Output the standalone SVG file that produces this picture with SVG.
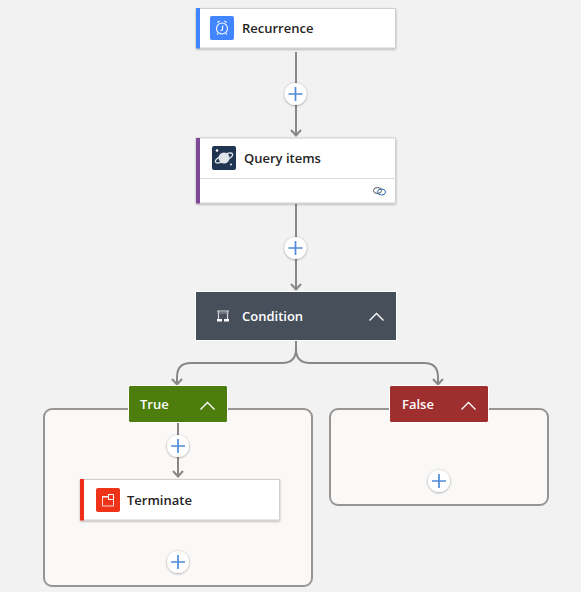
<svg xmlns="http://www.w3.org/2000/svg" width="581" height="592" viewBox="0 0 581 592">
<defs>
<filter id="sh" x="-10%" y="-20%" width="120%" height="140%"><feDropShadow dx="0" dy="1" stdDeviation="1.2" flood-color="#000" flood-opacity="0.3"/></filter>
<filter id="psh" x="-30%" y="-30%" width="160%" height="160%"><feDropShadow dx="0" dy="0.5" stdDeviation="0.8" flood-color="#000" flood-opacity="0.45"/></filter>
<marker id="arr" markerUnits="userSpaceOnUse" markerWidth="14" markerHeight="10" refX="6" refY="7.2" orient="auto-start-reverse" viewBox="0 0 12 10" overflow="visible"><path d="M0.5 2.2L6 7.2L11.5 2.2" transform="rotate(-90 6 7.2)" fill="none" stroke="#8a8886" stroke-width="2"/></marker>
<g id="plus"><circle r="11" fill="#fff" filter="url(#psh)"/><path d="M-7 0H7M0-7V7" stroke="#4f8ad8" stroke-width="1.7" fill="none"/></g>
</defs>
<style>
text{font-family:"Open Sans","Noto Sans","Liberation Sans",sans-serif;font-weight:600;font-size:13px}
.dark{fill:#252423}
.light{fill:#fff}
.card{fill:#fff;stroke:#d2d0ce;stroke-width:1;filter:url(#sh)}
.wire{fill:none;stroke:#8a8886;stroke-width:2}
.box{fill:#faf9f8;stroke:#989694;stroke-width:2}
.chev{fill:none;stroke:#fff;stroke-width:1.3}
.ico{fill:none;stroke:#fff;stroke-width:1.1}
</style>
<rect width="581" height="592" fill="#f2f2f2"/>
<g id="branch-containers">
<rect class="box" x="44" y="409" width="268" height="177" rx="8"/>
<rect class="box" x="330" y="409" width="218" height="96" rx="8"/>
</g>
<g id="connectors">
<path class="wire" d="M296 52V136"/>
<path d="M291 130L296 135.500L301 130" class="wire"/>
<path class="wire" d="M296 204V290"/>
<path d="M291 284L296 289.500L301 284" class="wire"/>
<path class="wire" d="M296 341V349Q296 363 282 363H191Q177 363 177 377V385"/>
<path d="M172 379L177 384.500L182 379" class="wire"/>
<path class="wire" d="M296 341V349Q296 363 310 363H424Q438 363 438 377V385"/>
<path d="M433 379L438 384.500L443 379" class="wire"/>
<path class="wire" d="M178 423V477"/>
<path d="M173 471L178 476.500L183 471" class="wire"/>
</g>
<g id="recurrence">
<rect class="card" x="196.500" y="8.500" width="199" height="39.500"/>
<rect x="196" y="8" width="4" height="40.500" fill="#4185ff"/>
<rect x="210" y="16" width="24" height="24" rx="2" fill="#4185ff"/>
<circle class="ico" cx="222" cy="28.500" r="5.500"/>
<path class="ico" d="M217.500 22.500L219.500 21M226.500 22.500L224.500 21M222.800 25.500L222.300 30L220.500 30.500M218 33.500L217 34.500M226 33.500L227 34.500"/>
<text class="dark" x="242" y="33">Recurrence</text>
</g>
<g id="query-items">
<rect class="card" x="196.500" y="138" width="199" height="65"/>
<rect x="196" y="138" width="4" height="65.500" fill="#804998"/>
<path d="M200 178.500H395.500" stroke="#dcdcdc" stroke-width="1"/>
<rect x="212" y="146" width="24" height="24" rx="2" fill="#1f3552"/>
<circle cx="224" cy="158" r="5.500" fill="#dfe4ea"/>
<ellipse cx="224" cy="158" rx="9.500" ry="3" transform="rotate(-25 224 158)" fill="none" stroke="#dfe4ea" stroke-width="1.200"/>
<circle cx="217" cy="150.500" r="1.300" fill="#fff"/>
<circle cx="231" cy="164.500" r="0.900" fill="#fff"/>
<text class="dark" x="244" y="163">Query items</text>
<ellipse cx="377.500" cy="190.500" rx="4" ry="3" fill="none" stroke="#505050" stroke-width="1"/>
<ellipse cx="381.500" cy="192" rx="4" ry="3" fill="none" stroke="#2f6fb5" stroke-width="1"/>
</g>
<g id="condition">
<rect x="195.500" y="291.500" width="201" height="49" fill="#474f5b" stroke="#fff" stroke-width="1"/>
<path d="M217 311H229M218.500 311V320M227.500 311V320" fill="none" stroke="#d5d7da" stroke-width="1.200"/>
<path d="M217 313H229" stroke="#9ca1a8" stroke-width="1"/>
<rect x="217" y="319" width="5" height="2.500" fill="#fff"/>
<rect x="224" y="319" width="5" height="2.500" fill="#fff"/>
<text class="light" x="242" y="321">Condition</text>
<path class="chev" d="M369.500 320.500L376.500 313.500L383.500 320.500"/>
</g>
<g id="true-branch">
<rect x="128.500" y="385.500" width="99" height="37" rx="2" fill="#4c7d0d" stroke="#fff" stroke-width="1"/>
<text class="light" x="140" y="409">True</text>
<path class="chev" d="M200.500 409.500L207.500 402.500L214.500 409.500"/>
</g>
<g id="false-branch">
<rect x="389.500" y="385.500" width="99" height="37" rx="2" fill="#9f2e2e" stroke="#fff" stroke-width="1"/>
<text class="light" x="402" y="409">False</text>
<path class="chev" d="M461.500 409.500L468.500 402.500L475.500 409.500"/>
</g>
<g id="terminate">
<rect class="card" x="80.500" y="479.500" width="199" height="40.500"/>
<rect x="80" y="479" width="4" height="41.500" fill="#ee2e1a"/>
<rect x="96" y="488" width="24" height="24" rx="2" fill="#ee3319"/>
<rect x="102.500" y="496.500" width="11" height="9.500" fill="none" stroke="#fff" stroke-opacity="0.800" stroke-width="1"/>
<rect x="102" y="496" width="6" height="2" fill="#fff" fill-opacity="0.500"/>
<rect x="108.500" y="494.500" width="5" height="5" fill="#ee3319" stroke="#fff" stroke-width="1"/>
<text class="dark" x="127" y="505">Terminate</text>
</g>
<g id="add-buttons">
<use href="#plus" x="295.500" y="94"/>
<use href="#plus" x="295.500" y="248"/>
<use href="#plus" x="178" y="446"/>
<use href="#plus" x="178" y="562"/>
<use href="#plus" x="439" y="481"/>
</g>
</svg>
